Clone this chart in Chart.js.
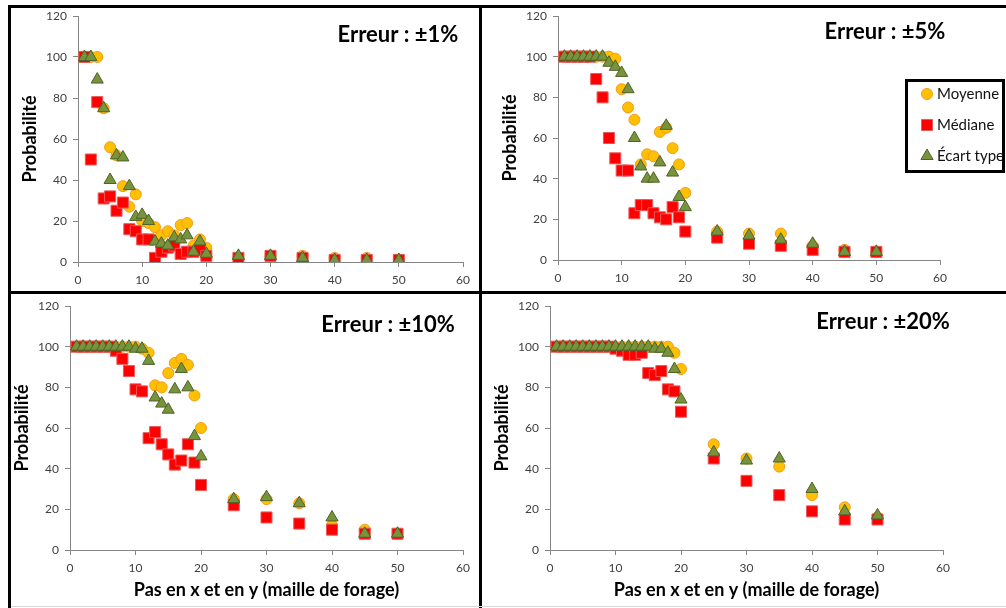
<!DOCTYPE html>
<html lang="fr">
<head>
<meta charset="utf-8">
<title>Probabilité selon le pas de forage</title>
<script src="https://cdn.jsdelivr.net/npm/chart.js@4.4.1/dist/chart.umd.min.js"></script>
<style>
  html, body { margin: 0; padding: 0; background: #fff; }
  #page { position: relative; width: 1006px; height: 608px; overflow: hidden; background: #fff; }
  #page canvas { position: absolute; }
  .rule { position: absolute; background: #000; z-index: 2; }
  .rule.light { background: #d9d9d9; }
</style>
</head>
<body>
<div id="page">
  <canvas id="c1" width="480" height="290" style="left:0;top:0"></canvas>
  <canvas id="c2" width="526" height="290" style="left:480px;top:0"></canvas>
  <canvas id="c3" width="480" height="318" style="left:0;top:290px"></canvas>
  <canvas id="c4" width="526" height="318" style="left:480px;top:290px"></canvas>
  <div class="rule" style="left:8px;top:5px;width:998px;height:3px"></div>
  <div class="rule" style="left:8px;top:5px;width:3px;height:603px"></div>
  <div class="rule" style="left:479px;top:5px;width:3px;height:603px"></div>
  <div class="rule" style="left:8px;top:291px;width:998px;height:3px"></div>
  <div class="rule light" style="left:11px;top:606px;width:995px;height:1px"></div>
</div>
<script>
// Pas de la maille (x et y), communs aux quatre graphiques
const pas = [1, 2, 3, 4, 5, 6, 7, 8, 9, 10, 11, 12, 13, 14, 15, 16, 17, 18, 19, 20, 25, 30, 35, 40, 45, 50];

// Erreur ±1 %
const moyenne1 = [100, 100, 100, 75, 56, 52, 37, 27, 33, 20, 19, 17, 13, 15, 13, 18, 19, 8, 11, 7, 2, 3, 3, 2, 2, 1];
const mediane1 = [100, 50, 78, 31, 32, 25, 29, 16, 15, 11, 11, 2, 5, 7, 8, 4, 5, 5, 6, 3, 2, 3, 2, 1, 1, 1];
const ecart1   = [100, 100, 89, 75, 40, 52, 51, 37, 22, 23, 20, 10, 9, 8, 12, 11, 13, 5, 10, 4, 3, 3, 2, 1, 1, 1];

// Erreur ±5 %
const moyenne5 = [100, 100, 100, 100, 100, 100, 100, 100, 99, 84, 75, 69, 47, 52, 51, 63, 65, 55, 47, 33, 14, 13, 13, 7, 5, 4];
const mediane5 = [100, 100, 100, 100, 100, 89, 80, 60, 50, 44, 44, 23, 27, 27, 23, 21, 20, 26, 21, 14, 11, 8, 7, 5, 4, 4];
const ecart5   = [100, 100, 100, 100, 100, 100, 100, 97, 95, 92, 84, 60, 46, 40, 40, 48, 66, 43, 31, 26, 14, 12, 10, 8, 4, 4];

// Erreur ±10 %
const moyenne10 = [100, 100, 100, 100, 100, 100, 100, 100, 100, 100, 99, 97, 81, 80, 87, 92, 94, 91, 76, 60, 25, 25, 23, 12, 10, 8];
const mediane10 = [100, 100, 100, 100, 100, 100, 98, 94, 88, 79, 78, 55, 58, 52, 47, 42, 44, 52, 43, 32, 22, 16, 13, 10, 8, 8];
const ecart10   = [100, 100, 100, 100, 100, 100, 100, 100, 100, 99, 99, 93, 75, 72, 69, 79, 89, 80, 56, 46, 25, 26, 23, 16, 8, 8];

// Erreur ±20 %
const moyenne20 = [100, 100, 100, 100, 100, 100, 100, 100, 100, 100, 100, 100, 100, 100, 100, 100, 100, 100, 97, 89, 52, 45, 41, 27, 21, 16];
const mediane20 = [100, 100, 100, 100, 100, 100, 100, 100, 100, 99, 98, 96, 96, 97, 87, 86, 88, 79, 78, 68, 45, 34, 27, 19, 15, 15];
const ecart20   = [100, 100, 100, 100, 100, 100, 100, 100, 100, 100, 100, 100, 100, 100, 100, 99, 99, 97, 89, 74, 48, 44, 45, 30, 19, 17];

// Textes
const titres = ['Erreur : ±1%', 'Erreur : ±5%', 'Erreur : ±10%', 'Erreur : ±20%'];
const nomsSeries = ['Moyenne', 'Médiane', 'Écart type'];
const titreY = 'Probabilité';
const titreX = 'Pas en x et en y (maille de forage)';
const ticksX = [0, 10, 20, 30, 40, 50, 60];
const ticksY = [0, 20, 40, 60, 80, 100, 120];

const FONT = 'Lato, "Open Sans", sans-serif';

// Apparence des trois séries
const styles = [
  { pointStyle: 'circle',   pointRadius: 5.5, backgroundColor: '#FFC000', borderColor: '#F39A1E', borderWidth: 1, order: 3 },
  { pointStyle: 'rect',     pointRadius: 7.8, backgroundColor: '#FF0000', borderColor: '#E85A5A', borderWidth: 1, order: 2 },
  { pointStyle: 'triangle', pointRadius: 7,   backgroundColor: '#77933C', borderColor: '#4F6228', borderWidth: 1, order: 1 }
];

// Titre « Erreur : ±x% » dans la zone de tracé
const panelTitle = {
  id: 'panelTitle',
  afterDraw(chart, args, opts) {
    const ctx = chart.ctx;
    ctx.save();
    ctx.font = 'bold ' + opts.size + 'px ' + FONT;
    ctx.fillStyle = '#000';
    ctx.textAlign = 'center';
    ctx.textBaseline = 'middle';
    ctx.fillText(opts.text, opts.x, opts.y);
    ctx.restore();
  }
};

// Légende encadrée
const boxedLegend = {
  id: 'boxedLegend',
  afterDraw(chart, args, opts) {
    if (!opts.show) return;
    const ctx = chart.ctx;
    ctx.save();
    ctx.lineWidth = 3;
    ctx.strokeStyle = '#000';
    ctx.strokeRect(opts.box.x, opts.box.y, opts.box.w, opts.box.h);
    chart.data.datasets.forEach((ds, i) => {
      const y = opts.rowY[i];
      ctx.fillStyle = ds.backgroundColor;
      ctx.strokeStyle = ds.borderColor;
      ctx.lineWidth = ds.borderWidth;
      Chart.helpers.drawPoint(ctx, { pointStyle: ds.pointStyle, radius: ds.pointRadius, borderWidth: ds.borderWidth, rotation: 0 }, opts.markerX, y);
      ctx.fillStyle = '#111';
      ctx.font = opts.size + 'px ' + FONT;
      ctx.textAlign = 'left';
      ctx.textBaseline = 'middle';
      ctx.fillText(ds.label, opts.textX, y);
    });
    ctx.restore();
  }
};

const panneaux = [
  { id: 'c1', w: 480, h: 290, titre: titres[0], series: [moyenne1, mediane1, ecart1],
    area: { left: 78, top: 16, right: 463, bottom: 262 }, yTitleX: 30, head: { x: 398, y: 35 }, axeX: false, legende: false },
  { id: 'c2', w: 526, h: 290, titre: titres[1], series: [moyenne5, mediane5, ecart5],
    area: { left: 78, top: 16, right: 460, bottom: 260 }, yTitleX: 30, head: { x: 405, y: 32 }, axeX: false, legende: true },
  { id: 'c3', w: 480, h: 318, titre: titres[2], series: [moyenne10, mediane10, ecart10],
    area: { left: 70, top: 16, right: 463, bottom: 260 }, yTitleX: 22.5, head: { x: 388, y: 35 }, axeX: true, legende: false },
  { id: 'c4', w: 526, h: 318, titre: titres[3], series: [moyenne20, mediane20, ecart20],
    area: { left: 70, top: 16, right: 463, bottom: 260 }, yTitleX: 22.5, head: { x: 403, y: 32 }, axeX: true, legende: false }
];

const axisGrid = { display: true, drawOnChartArea: false, drawTicks: true, tickLength: 5, color: '#868686', lineWidth: 1 };
const axisBorder = { display: true, color: '#868686', width: 1 };
const tickFont = { family: FONT, size: 12 };
const titleFont = { family: FONT, size: 18, weight: 'bold' };
const halfTitleLine = 18 * 1.2 / 2;

panneaux.forEach(p => {
  const datasets = p.series.map((vals, i) => Object.assign({
    label: nomsSeries[i],
    data: pas.map((x, k) => ({ x: x, y: vals[k] }))
  }, styles[i]));

  new Chart(document.getElementById(p.id), {
    type: 'scatter',
    data: { datasets: datasets },
    plugins: [panelTitle, boxedLegend],
    options: {
      responsive: false,
      animation: false,
      devicePixelRatio: 1,
      layout: { padding: { left: 0, top: p.area.top, right: p.w - p.area.right, bottom: 0 } },
      elements: { point: { hoverRadius: 6 } },
      plugins: {
        legend: { display: false },
        tooltip: { enabled: false },
        panelTitle: { text: p.titre, x: p.head.x, y: p.head.y, size: 22 },
        boxedLegend: {
          show: p.legende,
          box: { x: 426.5, y: 80.5, w: 97, h: 91 },
          markerX: 447, textX: 457, rowY: [94, 125, 156], size: 15
        }
      },
      scales: {
        x: {
          type: 'linear', min: 0, max: 60,
          afterBuildTicks: s => { s.ticks = ticksX.map(v => ({ value: v })); },
          afterFit: s => { s.height = p.h - p.area.bottom; },
          grid: axisGrid, border: axisBorder,
          ticks: { font: tickFont, color: '#404040', padding: 6, maxRotation: 0, autoSkip: false },
          title: { display: p.axeX, text: titreX, color: '#000', font: titleFont,
                   padding: { top: 0, bottom: 18 - halfTitleLine } }
        },
        y: {
          type: 'linear', min: 0, max: 120,
          afterBuildTicks: s => { s.ticks = ticksY.map(v => ({ value: v })); },
          afterFit: s => { s.width = p.area.left; },
          grid: axisGrid, border: axisBorder,
          ticks: { font: tickFont, color: '#404040', padding: 6 },
          title: { display: true, text: titreY, color: '#000', font: titleFont,
                   padding: { top: p.yTitleX - halfTitleLine, bottom: 0 } }
        }
      }
    }
  });
});
</script>
</body>
</html>
